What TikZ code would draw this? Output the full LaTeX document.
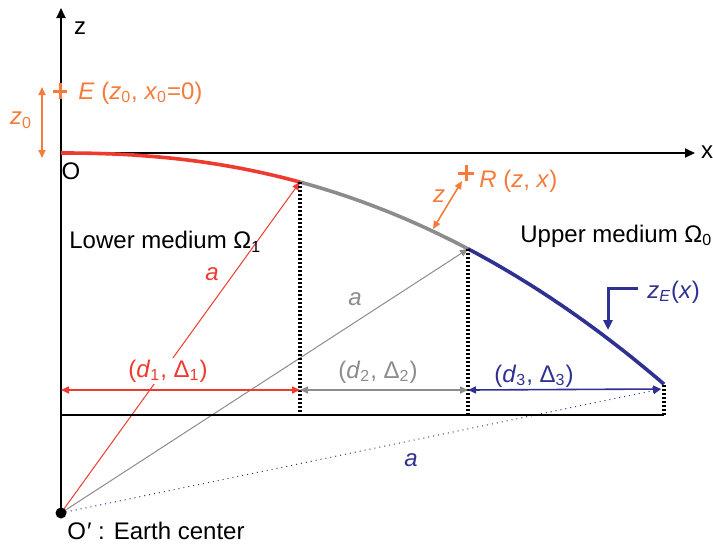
\documentclass[tikz,border=0pt]{standalone}
\usepackage{fontspec}
\setmainfont{Liberation Sans}
\usetikzlibrary{arrows.meta}
\definecolor{srcorange}{HTML}{F47B3A}
\definecolor{lowred}{HTML}{EE3B2F}
\definecolor{midgray}{HTML}{8C8C8C}
\definecolor{upblue}{HTML}{2E3192}

\tikzset{
  axis/.style={line width=1pt, -{Triangle[length=5pt,width=4.5pt]}},
  dim/.style={line width=0.8pt, {Triangle[length=4pt,width=3.5pt]}-{Triangle[length=4pt,width=3.5pt]}},
  radius line/.style={line width=0.5pt, -{Triangle[length=4pt,width=3.5pt]}},
  earth/.style={line width=1.8pt},
  drop/.style={line width=1.6pt, dash pattern=on 1pt off 1pt},
  cross/.style={srcorange, line width=1.5pt},
  lbl/.style={inner sep=1pt, font=\fontsize{12}{14}\selectfont}
}

\begin{document}
\begin{tikzpicture}[x=0.5pt, y=-0.5pt]
\useasboundingbox (0,0) rectangle (713,543);

% points of the earth surface
\coordinate (O) at (61,153);
\coordinate (Oc) at (61,513);
\coordinate (ztip) at (61,8);
\coordinate (xtip) at (695,153);
\coordinate (P1) at (300,182);
\coordinate (P2) at (468,249);
\coordinate (P3) at (664,385);
\coordinate (B0) at (61,415);
\coordinate (B1) at (300,415);
\coordinate (B2) at (468,415);
\coordinate (B3) at (664,415);
\coordinate (D0) at (61,390);
\coordinate (D1) at (300,390);
\coordinate (D2) at (468,390);
\coordinate (D3) at (661,389);
\coordinate (E) at (60,91);
\coordinate (R) at (466,173);

% axes
\draw[axis] (Oc) -- (ztip);
\draw[axis] (O) -- (xtip);
\node[lbl] (zlab) at (80,28) {z};
\node[lbl] (xlab) at (707,152) {x};
\node[lbl] (Olab) at (71,171) {O};

% radius lines from the center
\draw[radius line, lowred] (Oc) -- (P1);
\draw[radius line, midgray] (Oc) -- (P2);
\draw[radius line, upblue, dotted] (Oc) -- (D3);

% surface z_E(x)
\draw[earth, lowred] (O) -- plot[domain=62:300, samples=30] (\x, {153+232*((\x-61)/604)^2.24});
\draw[earth, midgray] plot[domain=300:468, samples=25] (\x, {153+232*((\x-61)/604)^2.24});
\draw[earth, upblue] plot[domain=468:664, samples=25] (\x, {153+232*((\x-61)/604)^2.24});

% vertical drops and base line
\draw[drop] (P1) -- (B1);
\draw[drop] (P2) -- (B2);
\draw[drop] (P3) -- (B3);
\draw[line width=1pt] (B0) -- (B3);

% segments
\draw[dim, lowred] (D0) -- (D1);
\draw[dim, midgray] (D1) -- (D2);
\draw[dim, upblue] (D2) -- (D3);
\node[lbl, lowred, fill=white] (seg1) at (168,371) {(\textit{d}\textsubscript{1}, Δ\textsubscript{1})};
\node[lbl, midgray] (seg2) at (378,372) {(\textit{d}\textsubscript{2}, Δ\textsubscript{2})};
\node[lbl, upblue] (seg3) at (534,376) {(\textit{d}\textsubscript{3}, Δ\textsubscript{3})};

\node[lbl, lowred, fill=white] (a1) at (212,274) {\textit{a}};
\node[lbl, midgray] (a2) at (355,299) {\textit{a}};
\node[lbl, upblue] (a3) at (411,460) {\textit{a}};

% emitter and receiver
\draw[cross] (E) +(-7,0) -- +(7,0) (E) +(0,-8) -- +(0,8);
\node[lbl, srcorange, anchor=west] (Elab) at (76,93) {\textit{E} (\textit{z}\textsubscript{0}, \textit{x}\textsubscript{0}=0)};
\coordinate (z0top) at (42,87);
\coordinate (z0bot) at (42,158);
\draw[dim, srcorange] (z0top) -- (z0bot);
\node[lbl, srcorange] (z0lab) at (21,120) {\textit{z}\textsubscript{0}};

\draw[cross] (R) +(-8,0) -- +(8,0) (R) +(0,-8) -- +(0,8);
\node[lbl, srcorange, anchor=west] (Rlab) at (477,181) {\textit{R} (\textit{z}, \textit{x})};
\coordinate (Rtop) at (462,181);
\coordinate (Rbot) at (433,229);
\draw[dim, srcorange] (Rtop) -- (Rbot);
\node[lbl, srcorange] (zlabR) at (439,196) {\textit{z}};

% media
\node[lbl, anchor=west] (lower) at (67,242) {Lower medium Ω\textsubscript{1}};
\node[lbl, anchor=west] (upper) at (518,236) {Upper medium Ω\textsubscript{0}};

% surface label
\node[lbl, upblue, anchor=west] (zElab) at (645,292) {\textit{z}\textsubscript{\textit{E}}(\textit{x})};
\coordinate (zEa) at (638,288);
\coordinate (zEb) at (608,330);
\draw[line width=1.5pt, upblue, -{Triangle[length=5pt,width=4.5pt]}] (zEa) -| (zEb);

% earth center
\fill (Oc) circle[radius=5.5];
\node[lbl, anchor=west] (Oclab) at (65,531) {O\kern0.5pt′ : Earth center};
\end{tikzpicture}
\end{document}
